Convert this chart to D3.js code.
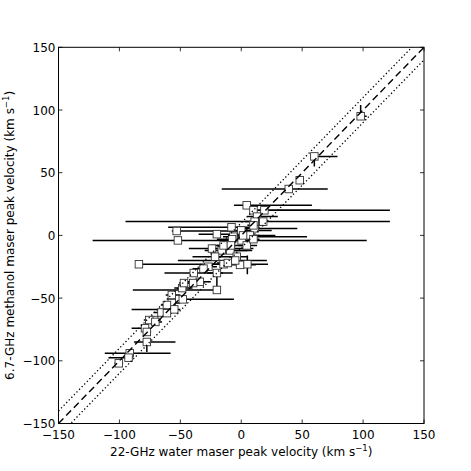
<!DOCTYPE html>
<html>
<head>
<meta charset="utf-8">
<script src="https://cdn.jsdelivr.net/npm/d3@7"></script>
<style>
  body { margin: 0; background: #fff; }
  text { font-family: "DejaVu Sans", sans-serif; }
</style>
</head>
<body>
<div id="chart"></div>
<script>
// 22-GHz water maser peak velocity (km/s)
var water = [98, 60, 48, 39, 4.5, 10, 19, 13, 18, 11,
  -53, -8, 0, -20, -52, -6.5, 0.3, 7, 4.5, -24,
  -16, -9, -21.5, -3.7, 5, -1, -14.5, -84, -27, -39,
  -20, -34, -39.5, -48.5, -20, -57, -48, -57, -55, -61,
  -65.5, -61, -71.5, -75.5, -79, -77.5, -77.5, -91.5, -92.5, -100.5,
  11, 10, 1.5, 10, -7.5, -14.5, -8.5, -5, -11, -31,
  -47, -70.5];
// 6.7-GHz methanol maser peak velocity (km/s)
var methanol = [95, 63, 44, 37, 24, 20, 20, 15, 11, 5.6,
  3.5, 6.5, 4, 1, -4, -1, -4, 0, -8, -10.5,
  -12, -12, -17, -17, -23, -23.5, -23, -23, -25, -30,
  -30, -37, -38, -42, -43.5, -47.5, -51, -54, -59, -55.5,
  -61.5, -62, -67.5, -67.5, -74, -77, -85, -94, -97.5, -102,
  11, 8, 0, -3, -3, -8, -8, -20, -22, -26.5,
  -38, -69];
// water maser velocity range (horizontal bars)
var waterLo = [96, 57, 46, -16, -6, 9, 10, 5, -95, 2,
  -57, -60, -10, -35, -122, -15, -10, -5, -2, -43,
  -30, -15, -40, -10, 0, -12, -25, -84, -33, -63,
  -28, -47, -45, -55, -89, -62, -48, -62, -90, -66,
  -72, -65, -78, -80, -90, -80, -88, -112, -109, -104,
  3, 5, -10, 5, -20, -25, -20, -52, -20, -40,
  -51, -75];
var waterHi = [103, 79, 50, 71, 58, 122, 65, 30, 122, 46,
  5, 15, 25, 0, 103, 54, 10, 28, 13, 10,
  9, 5, -5, 5, 22, 12, -5, -5, -20, -7,
  -15, -25, -30, -40, -20, -50, -6, -50, -50, -56,
  -60, -57, -66, -70, -75, -74, -54, -58, -95, -97,
  20, 20, 15, 15, 0, -5, 0, 21, -5, -25,
  -43, -65];
// methanol velocity range where drawn (vertical bars)
var methLo = [95, 55, null, null, null, null, null, null, null, null,
  null, null, null, null, null, null, null, null, null, null,
  null, null, null, null, -31, null, null, null, null, null,
  -42, null, null, null, null, null, null, null, null, null,
  null, null, null, null, null, null, -93, null, null, null];
var methHi = [104, 66, null, null, null, null, null, null, null, null,
  null, null, null, null, null, null, null, null, null, null,
  null, null, null, null, -16, null, null, null, null, null,
  -29, null, null, null, null, null, null, null, null, null,
  null, null, null, null, null, null, -85, null, null, null];
var ticks = [-150, -100, -50, 0, 50, 100, 150];
var offset = 10;

var width = 471, height = 471;
var svg = d3.select("#chart").append("svg")
  .attr("width", width)
  .attr("height", height);

var x = d3.scaleLinear().domain([-150, 150]).range([58.5, 424]);
var y = d3.scaleLinear().domain([-150, 150]).range([423.5, 47.3]);

var pts = water.map(function(d, i) {
  return {x: d, y: methanol[i], lo: waterLo[i], hi: waterHi[i],
          ylo: methLo[i], yhi: methHi[i]};
});

svg.append("defs").append("clipPath").attr("id", "clip")
  .append("rect")
  .attr("x", x(-150)).attr("y", y(150))
  .attr("width", x(150) - x(-150)).attr("height", y(-150) - y(150));

var plot = svg.append("g").attr("clip-path", "url(#clip)");

// horizontal bars
plot.selectAll(".hbar")
  .data(pts)
  .enter().append("line")
  .attr("class", "hbar")
  .attr("x1", function(d) { return x(d.lo); })
  .attr("x2", function(d) { return x(d.hi); })
  .attr("y1", function(d) { return y(d.y); })
  .attr("y2", function(d) { return y(d.y); })
  .style("stroke", "#000")
  .style("stroke-width", 1.5);

// vertical bars
plot.selectAll(".vbar")
  .data(pts.filter(function(d) { return d.ylo != null; }))
  .enter().append("line")
  .attr("class", "vbar")
  .attr("x1", function(d) { return x(d.x); })
  .attr("x2", function(d) { return x(d.x); })
  .attr("y1", function(d) { return y(d.ylo); })
  .attr("y2", function(d) { return y(d.yhi); })
  .style("stroke", "#000")
  .style("stroke-width", 1.5);

var s = 7.5;
plot.selectAll(".pt")
  .data(pts)
  .enter().append("rect")
  .attr("class", "pt")
  .attr("x", function(d) { return x(d.x) - s / 2; })
  .attr("y", function(d) { return y(d.y) - s / 2; })
  .attr("width", s)
  .attr("height", s)
  .style("fill", "#fff")
  .style("stroke", "#333")
  .style("stroke-width", 0.9);

// y = x and y = x +/- offset
var diag = [
  {off: 0, dash: "7,4", w: 1.4},
  {off: offset, dash: "1.3,2.4", w: 1.3},
  {off: -offset, dash: "1.3,2.4", w: 1.3}
];
plot.selectAll(".diag")
  .data(diag)
  .enter().append("line")
  .attr("class", "diag")
  .attr("x1", x(-150)).attr("y1", function(d) { return y(-150 + d.off); })
  .attr("x2", x(150)).attr("y2", function(d) { return y(150 + d.off); })
  .style("stroke", "#000")
  .style("stroke-width", function(d) { return d.w; })
  .style("stroke-dasharray", function(d) { return d.dash; });

// frame
svg.append("rect")
  .attr("x", x(-150)).attr("y", y(150))
  .attr("width", x(150) - x(-150)).attr("height", y(-150) - y(150))
  .style("fill", "none").style("stroke", "#000").style("stroke-width", 1);

// ticks, all four sides, pointing in
var tl = 4;
var tg = svg.append("g").style("stroke", "#000").style("stroke-width", 0.8);
ticks.forEach(function(t) {
  tg.append("line").attr("x1", x(t)).attr("x2", x(t)).attr("y1", y(-150)).attr("y2", y(-150) - tl);
  tg.append("line").attr("x1", x(t)).attr("x2", x(t)).attr("y1", y(150)).attr("y2", y(150) + tl);
  tg.append("line").attr("y1", y(t)).attr("y2", y(t)).attr("x1", x(-150)).attr("x2", x(-150) + tl);
  tg.append("line").attr("y1", y(t)).attr("y2", y(t)).attr("x1", x(150)).attr("x2", x(150) - tl);
});

function fmt(t) { return t < 0 ? "\u2212" + Math.abs(t) : String(t); }

svg.selectAll(".xt")
  .data(ticks)
  .enter().append("text")
  .attr("class", "xt")
  .attr("x", function(d) { return x(d); })
  .attr("y", y(-150) + 15)
  .attr("text-anchor", "middle")
  .style("font-size", "12px")
  .text(fmt);

svg.selectAll(".yt")
  .data(ticks)
  .enter().append("text")
  .attr("class", "yt")
  .attr("x", x(-150) - 3)
  .attr("y", function(d) { return y(d) + 4.5; })
  .attr("text-anchor", "end")
  .style("font-size", "12px")
  .text(fmt);

// axis labels
var xl = svg.append("text")
  .attr("x", (x(-150) + x(150)) / 2)
  .attr("y", 456)
  .attr("text-anchor", "middle")
  .style("font-size", "12px");
xl.append("tspan").text("22-GHz water maser peak velocity (km s");
xl.append("tspan").attr("dy", -5).style("font-size", "8.5px").text("\u22121");
xl.append("tspan").attr("dy", 5).text(")");

var yl = svg.append("text")
  .attr("transform", "translate(14," + ((y(-150) + y(150)) / 2) + ") rotate(-90)")
  .attr("text-anchor", "middle")
  .style("font-size", "12px");
yl.append("tspan").text("6.7-GHz methanol maser peak velocity (km s");
yl.append("tspan").attr("dy", -5).style("font-size", "8.5px").text("\u22121");
yl.append("tspan").attr("dy", 5).text(")");
</script>
</body>
</html>
